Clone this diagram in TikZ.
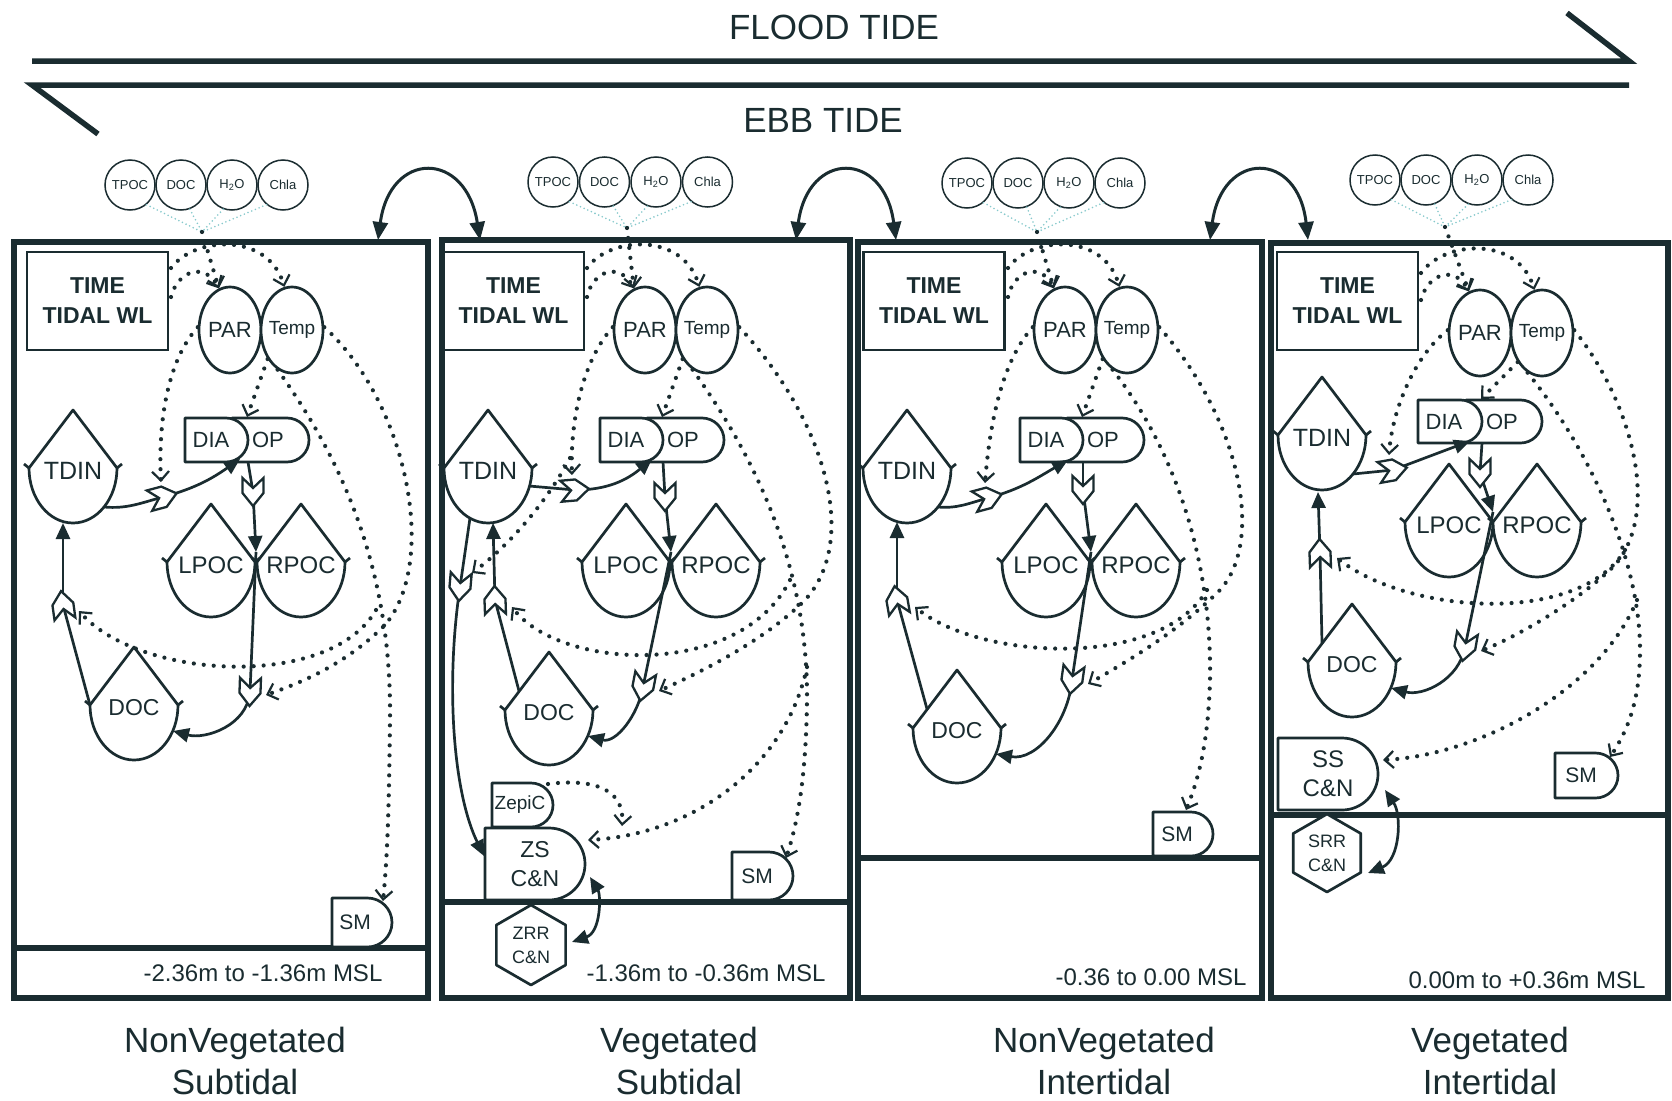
\documentclass[tikz,border=0pt]{standalone}
\usepackage{fontspec}
\setmainfont{Liberation Sans}
\usetikzlibrary{arrows.meta,calc,shapes.geometric}
\definecolor{ink}{HTML}{1A2C30}
\definecolor{cyanln}{HTML}{86C9CC}
\tikzset{
 shp/.style={draw=ink, line width=2.7pt, fill=white, line join=round},
 lbl/.style={inner sep=0pt, text=ink, align=center, font=\fontsize{24}{28}\selectfont},
 flow/.style={draw=ink, line width=2.7pt},
 tipf/.style={-{Triangle[length=16pt,width=14pt]}},
 dbl/.style={{Triangle[length=16pt,width=14pt]}-{Triangle[length=16pt,width=14pt]}},
 ctrl/.style={draw=ink, line width=4.2pt, dash pattern=on 0pt off 10pt, line cap=round},
 barb/.style={-{Straight Barb[length=9pt,width=17pt,line width=2.2pt]}},
 ell/.style={ellipse, draw=ink, line width=2.7pt, fill=white, minimum width=62pt, minimum height=86pt, inner sep=0pt},
 timebox/.style={draw=ink, line width=2.7pt, minimum width=141pt, minimum height=98pt, inner sep=0pt, align=center, text=ink, font=\bfseries\fontsize{23}{30}\selectfont},
 panel/.style={draw=ink, line width=5.5pt},
 bub/.style={circle, draw=ink, line width=1.5pt, minimum size=50pt, inner sep=0pt, text=ink, font=\fontsize{13}{14}\selectfont},
 cyanl/.style={draw=cyanln, line width=1.8pt, dash pattern=on 0pt off 4pt, line cap=round},
 gatesty/.style={draw=ink, line width=2.3pt, fill=white, line join=miter},
 tide/.style={draw=ink, line width=5.5pt, line join=miter},
 big/.style={text=ink, font=\fontsize{35}{42}\selectfont, inner sep=0pt, align=center},
 msl/.style={text=ink, font=\fontsize{24}{26}\selectfont, inner sep=0pt},
 exch/.style={draw=ink, line width=3pt, {Triangle[length=18pt,width=15pt]}-{Triangle[length=18pt,width=15pt]}},
}
\newcommand\tank[5][24]{%
 \begin{scope}[shift={(#3,#4)}]
 \draw[shp] (-44,0) -- (0,58) -- (44,0) arc[start angle=0,end angle=-180,x radius=44,y radius=55] -- cycle;
 \draw[shp,fill=none] (-44,0) -- (-49,4) (44,0) -- (49,4);
 \node[lbl,font=\fontsize{#1}{#1}\selectfont] (#2) at (0,-3) {#5};
 \coordinate (#2-w) at (-44,0);
 \coordinate (#2-e) at (44,0);
 \coordinate (#2-se) at (31,-39);
 \coordinate (#2-sw) at (-31,-39);
 \coordinate (#2-s2) at (-18,-50);
 \coordinate (#2-rw) at (-30,19);
 \coordinate (#2-e2) at (39,-26);
 \coordinate (#2-e3) at (41,-18);
 \end{scope}}
\newcommand\prodbox[8][22]{%
 \pgfmathsetmacro\pbr{#6/2}\pgfmathsetmacro\pbs{#5-#6/2}%
 \draw[shp] (#3,#4) -- ++(\pbs,0) arc[start angle=90,end angle=-90,radius=\pbr] -- ++(-\pbs,0) -- cycle;
 \node[lbl,font=\fontsize{#1}{29}\selectfont] (#2) at (#7,{#4-#6/2}) {#8};}
\newcommand\hexa[5]{%
 \begin{scope}[shift={(#2,#3)}]
 \draw[shp] (90:#4pt) -- (30:#4pt) -- (-30:#4pt) -- (-90:#4pt) -- (-150:#4pt) -- (150:#4pt) -- cycle;
 \node[lbl,font=\fontsize{18}{24}\selectfont] (#1) at (0,0) {#5};
 \end{scope}}
\newcommand\gate[2]{%
 \begin{scope}[shift={(#1)},rotate=#2]
 \draw[gatesty] (-14,10.5) -- (1,10.5) -- (14,0) -- (1,-10.5) -- (-14,-10.5) -- (-4,0) -- cycle;
 \end{scope}}
\newcommand\cluster[6]{%
 \node[bub] (#1tpoc) at (#2,#4) {TPOC};
 \node[bub] (#1docw) at ({#2+#3},#4) {DOC};
 \node[bub] (#1htwo) at ({#2+2*#3},#4) {H\textsubscript{2}O};
 \node[bub] (#1chla) at ({#2+3*#3},#4) {Chla};
 \coordinate (#1conv) at (#5,#6);
 \draw[cyanl] (#1tpoc.-50) -- (#1conv) (#1docw.-70) -- (#1conv) (#1htwo.-110) -- (#1conv) (#1chla.-130) -- (#1conv);}
\newcommand\partemp[3]{%
 \node[ell] (#1par) at (#2,#3) {};
 \node[ell] (#1temp) at ({#2+62},#3) {};
 \node[lbl,font=\fontsize{22}{22}\selectfont] (#1part) at (#1par) {PAR};
 \node[lbl,font=\fontsize{19}{19}\selectfont] (#1tempt) at (#1temp) {Temp};}

\begin{document}
\begin{tikzpicture}[x=1pt,y=1pt]
\fill[white] (0,0) rectangle (1672,-1100);
\useasboundingbox (0,0) rectangle (1672,-1100);

% ---------- tides ----------
\coordinate (fla) at (32,-61); \coordinate (flb) at (1629,-61); \coordinate (flc) at (1567,-13);
\draw[tide] (fla) -- (flb) -- (flc);
\coordinate (eba) at (1629,-85); \coordinate (ebb) at (32,-85); \coordinate (ebc) at (98,-134);
\draw[tide] (eba) -- (ebb) -- (ebc);
\node[big] (flood) at (834,-27) {FLOOD TIDE};
\node[big] (ebbt) at (823,-120) {EBB TIDE};

% ---------- bottom labels ----------
\node[big] (lab1) at (235,-1061) {NonVegetated\\Subtidal};
\node[big] (lab2) at (679,-1061) {Vegetated\\Subtidal};
\node[big] (lab3) at (1104,-1061) {NonVegetated\\Intertidal};
\node[big] (lab4) at (1490,-1061) {Vegetated\\Intertidal};

% ---------- frames ----------
\draw[panel] (14,-242) rectangle (428,-998);
\draw[panel] (14,-948) -- (428,-948);
\node[msl] (amsl) at (263,-973) {-2.36m to -1.36m MSL};
\draw[panel] (442,-240) rectangle (850,-998);
\draw[panel] (442,-902) -- (850,-902);
\node[msl] (bmsl) at (706,-973) {-1.36m to -0.36m MSL};
\draw[panel] (858,-242) rectangle (1262,-998);
\draw[panel] (858,-858) -- (1262,-858);
\node[msl] (cmsl) at (1151,-977) {-0.36 to 0.00 MSL};
\draw[panel] (1271,-243) rectangle (1668,-998);
\draw[panel] (1271,-815) -- (1668,-815);
\node[msl] (dmsl) at (1527,-980) {0.00m to +0.36m MSL};

% ---------- exchange arrows ----------
\coordinate (ex1a) at (378,-240); \coordinate (ex1b) at (480,-240);
\draw[exch] (ex1a) .. controls (390,-150) and (466,-150) .. (ex1b);
\coordinate (ex2a) at (796,-240); \coordinate (ex2b) at (896,-240);
\draw[exch] (ex2a) .. controls (808,-150) and (884,-150) .. (ex2b);
\coordinate (ex3a) at (1210,-240); \coordinate (ex3b) at (1308,-240);
\draw[exch] (ex3a) .. controls (1222,-150) and (1298,-150) .. (ex3b);

% ---------- clusters ----------
\cluster{a}{130}{51}{-185}{202}{-232}
\cluster{b}{553}{51.5}{-182}{627}{-228}
\cluster{c}{967}{51}{-183}{1037}{-232}
\cluster{d}{1375}{51}{-180}{1445}{-227}

% ================= PANEL 1 =================
\node[timebox] (atime) at (97.5,-301) {TIME\\TIDAL WL};
\partemp{a}{230}{-330}
\prodbox{aop}{232}{-418}{77}{44}{268}{OP}
\prodbox{adia}{185}{-418}{63}{44}{211}{DIA}
\tank[25]{atdin}{73}{-468}{TDIN}
\tank{alpoc}{211}{-562}{LPOC}
\tank{arpoc}{301}{-562}{RPOC}
\tank[23]{adoc}{134}{-705}{DOC}
\prodbox[21]{asm}{332}{-898}{60}{49}{355}{SM}
\coordinate (atime-e1) at (171,-268); \coordinate (atime-e2) at (171,-297);
\coordinate (adia-in) at (240,-459); \coordinate (adoj) at (248,-462);
\coordinate (adoj-t) at (247,-417); \coordinate (apocj) at (256,-552);
\coordinate (atdin-in) at (63,-523); \coordinate (asm-in) at (383,-901);
\coordinate (ax1) at (376,-610);
\coordinate (ag1) at (163,-497); \coordinate (ag2) at (253,-492);
\coordinate (ag3) at (250,-692); \coordinate (ag4) at (63,-605);
\draw[flow] (atdin-se) to[out=-5,in=195] (ag1);
\draw[flow,tipf] (ag1) to[out=15,in=-145] (adia-in);
\draw[flow] (adoj) -- (ag2);
\draw[flow,tipf] (ag2) -- (apocj);
\draw[flow] (apocj) -- (ag3);
\draw[flow,tipf] (ag3) to[out=-95,in=-15] (adoc-e2);
\draw[flow] (adoc-w) -- (ag4);
\draw[flow,tipf] (ag4) -- (atdin-in);
\draw[ctrl,barb] (aconv) -- (apar.105);
\draw[ctrl,barb] (atime-e1) .. controls (195,-236) and (268,-232) .. (atemp.100);
\draw[ctrl,barb] (atime-e2) .. controls (178,-270) and (205,-262) .. (apar.105);
\draw[ctrl,barb] (apar.175) .. controls (168,-360) and (158,-420) .. ($(ag1)+(-2,15)$);
\draw[ctrl,barb] (atemp.230) -- (adoj-t);
\draw[ctrl,barb] (atemp.250) .. controls (335,-450) and (392,-560) .. (390,-720) .. controls (389,-800) and (388,-850) .. (asm-in);
\draw[ctrl,barb] (atemp.5) .. controls (405,-400) and (440,-560) .. (385,-625) .. controls (345,-665) and (300,-683) .. ($(ag3)+(16,-3)$);
\draw[ctrl,barb] (ax1) .. controls (330,-690) and (140,-680) .. ($(ag4)+(16,-6)$);
\gate{ag1}{15} \gate{ag2}{-90} \gate{ag3}{-92} \gate{ag4}{98}

% ================= PANEL 2 =================
\node[timebox] (btime) at (513.5,-301) {TIME\\TIDAL WL};
\partemp{b}{645}{-330}
\prodbox{bop}{647}{-418}{77}{44}{683}{OP}
\prodbox{bdia}{600}{-418}{63}{44}{626}{DIA}
\tank[25]{btdin}{488}{-468}{TDIN}
\tank{blpoc}{626}{-562}{LPOC}
\tank{brpoc}{716}{-562}{RPOC}
\tank[23]{bdoc}{549}{-710}{DOC}
\prodbox[19]{bzepic}{492}{-783}{61}{44}{520}{ZepiC}
\prodbox[23]{bzs}{485}{-828}{100}{72}{535}{ZS\\C\&N}
\hexa{bzrr}{531}{-945}{40}{ZRR\\C\&N}
\prodbox[21]{bsm}{732}{-852}{61}{48}{757}{SM}
\coordinate (btime-e1) at (587,-268); \coordinate (btime-e2) at (587,-297);
\coordinate (bdia-in) at (652,-459); \coordinate (bdoj) at (663,-462);
\coordinate (bdoj-t) at (662,-417); \coordinate (bpocj) at (671,-552);
\coordinate (btdin-in) at (493,-523);
\coordinate (bzs-l) at (484,-856); \coordinate (bzs-in) at (588,-840);
\coordinate (bzs-r) at (590,-877); \coordinate (bzrr-r) at (572,-942);
\coordinate (bsm-in) at (786,-858); \coordinate (bzep-ne) at (548,-784);
\coordinate (bzep-end) at (622,-826);
\coordinate (bx1) at (790,-580); \coordinate (bx2) at (807,-667); \coordinate (bx3) at (570,-458);
\coordinate (bg1) at (575,-490); \coordinate (bg2) at (665,-497);
\coordinate (bg3) at (643,-687); \coordinate (bg4) at (495,-600);
\coordinate (bg5) at (460,-587);
\draw[flow] (btdin-e3) -- (bg1);
\draw[flow,tipf] (bg1) to[out=0,in=-140] (bdia-in);
\draw[flow] (bdoj) -- (bg2);
\draw[flow,tipf] (bg2) -- (bpocj);
\draw[flow] (bpocj) -- (bg3);
\draw[flow,tipf] (bg3) to[out=-100,in=-15] (bdoc-e2);
\draw[flow] (bdoc-rw) -- (bg4);
\draw[flow,tipf] (bg4) -- (btdin-in);
\draw[flow] (btdin-s2) -- (bg5);
\draw[flow,tipf] (bg5) .. controls (446,-680) and (452,-790) .. (bzs-l);
\draw[flow,dbl] (bzs-r) .. controls (601,-895) and (601,-932) .. (bzrr-r);
\draw[ctrl,barb] (bconv) -- (bpar.105);
\draw[ctrl,barb] (btime-e1) .. controls (610,-236) and (683,-232) .. (btemp.100);
\draw[ctrl,barb] (btime-e2) .. controls (593,-270) and (620,-262) .. (bpar.105);
\draw[ctrl,barb] (bpar.175) .. controls (583,-360) and (570,-420) .. ($(bg1)+(-3,15)$);
\draw[ctrl,barb] (bx3) .. controls (548,-500) and (510,-545) .. ($(bg5)+(12,14)$);
\draw[ctrl,barb] (btemp.230) -- (bdoj-t);
\draw[ctrl,barb] (btemp.250) .. controls (750,-450) and (808,-560) .. (807,-700) .. controls (806,-780) and (797,-825) .. (bsm-in);
\draw[ctrl,barb] (btemp.5) .. controls (825,-420) and (860,-540) .. (805,-600) .. controls (765,-640) and (705,-670) .. ($(bg3)+(16,-4)$);
\draw[ctrl,barb] (bx1) .. controls (740,-680) and (560,-670) .. ($(bg4)+(17,-7)$);
\draw[ctrl,barb] (bx2) .. controls (785,-770) and (690,-835) .. (bzs-in);
\draw[ctrl,barb] (bzep-ne) .. controls (595,-778) and (625,-790) .. (bzep-end);
\gate{bg1}{5} \gate{bg2}{-90} \gate{bg3}{-101} \gate{bg4}{92} \gate{bg5}{-95}

% ================= PANEL 3 =================
\node[timebox] (ctime) at (934,-301) {TIME\\TIDAL WL};
\partemp{c}{1065}{-330}
\prodbox{cop}{1067}{-418}{77}{44}{1103}{OP}
\prodbox{cdia}{1020}{-418}{63}{44}{1046}{DIA}
\tank[25]{ctdin}{907}{-468}{TDIN}
\tank{clpoc}{1046}{-562}{LPOC}
\tank{crpoc}{1136}{-562}{RPOC}
\tank[23]{cdoc}{957}{-728}{DOC}
\prodbox[21]{csm}{1153}{-812}{60}{44}{1177}{SM}
\coordinate (ctime-e1) at (1008,-268); \coordinate (ctime-e2) at (1008,-297);
\coordinate (cdia-in) at (1068,-460); \coordinate (cdoj) at (1083,-462);
\coordinate (cdoj-t) at (1082,-417); \coordinate (cpocj) at (1091,-552);
\coordinate (ctdin-in) at (897,-522); \coordinate (csm-in) at (1186,-810);
\coordinate (cx1) at (1207,-590);
\coordinate (cg1) at (988,-498); \coordinate (cg2) at (1083,-490);
\coordinate (cg3) at (1072,-680); \coordinate (cg4) at (897,-600);
\draw[flow] (ctdin-se) to[out=-5,in=195] (cg1);
\draw[flow,tipf] (cg1) to[out=15,in=-150] (cdia-in);
\draw[flow] (cdoj) -- (cg2);
\draw[flow,tipf] (cg2) -- (cpocj);
\draw[flow] (cpocj) -- (cg3);
\draw[flow,tipf] (cg3) to[out=-95,in=-10] (cdoc-e2);
\draw[flow] (cdoc-rw) -- (cg4);
\draw[flow,tipf] (cg4) -- (ctdin-in);
\draw[ctrl,barb] (cconv) -- (cpar.105);
\draw[ctrl,barb] (ctime-e1) .. controls (1031,-236) and (1104,-232) .. (ctemp.100);
\draw[ctrl,barb] (ctime-e2) .. controls (1014,-270) and (1041,-262) .. (cpar.105);
\draw[ctrl,barb] (cpar.175) .. controls (1003,-360) and (990,-420) .. ($(cg1)+(-3,15)$);
\draw[ctrl,barb] (ctemp.230) -- (cdoj-t);
\draw[ctrl,barb] (ctemp.250) .. controls (1175,-450) and (1212,-560) .. (1210,-680) .. controls (1208,-750) and (1196,-785) .. (csm-in);
\draw[ctrl,barb] (ctemp.5) .. controls (1240,-420) and (1265,-540) .. (1220,-590) .. controls (1180,-630) and (1130,-660) .. ($(cg3)+(16,-4)$);
\draw[ctrl,barb] (cx1) .. controls (1160,-670) and (980,-660) .. ($(cg4)+(18,-7)$);
\gate{cg1}{15} \gate{cg2}{-90} \gate{cg3}{-98} \gate{cg4}{100}

% ================= PANEL 4 =================
\node[timebox] (dtime) at (1347.5,-301) {TIME\\TIDAL WL};
\partemp{d}{1480}{-333}
\prodbox{dop}{1466}{-400}{76}{43}{1502}{OP}
\prodbox{ddia}{1418}{-400}{64}{43}{1444}{DIA}
\tank[25]{dtdin}{1322}{-435}{TDIN}
\tank{dlpoc}{1449}{-522}{LPOC}
\tank{drpoc}{1537}{-522}{RPOC}
\tank[23]{ddoc}{1352}{-662}{DOC}
\prodbox[24]{dss}{1278}{-738}{100}{72}{1328}{SS\\C\&N}
\hexa{dsrr}{1327}{-853}{39}{SRR\\C\&N}
\prodbox[21]{dsm}{1555}{-753}{63}{45}{1581}{SM}
\coordinate (dtime-e1) at (1421,-273); \coordinate (dtime-e2) at (1421,-300);
\coordinate (ddia-in) at (1470,-441); \coordinate (ddoj) at (1482,-443);
\coordinate (ddoj-t) at (1481,-399); \coordinate (dpocj) at (1493,-512);
\coordinate (dtdin-in) at (1318,-492);
\coordinate (dss-r) at (1385,-790); \coordinate (dsrr-r) at (1368,-873);
\coordinate (dss-in) at (1383,-760); \coordinate (dsm-in) at (1610,-757);
\coordinate (dx1) at (1625,-550); \coordinate (dx2) at (1637,-600);
\coordinate (dg1) at (1393,-470); \coordinate (dg2) at (1480,-473);
\coordinate (dg3) at (1465,-647); \coordinate (dg4) at (1320,-553);
\draw[flow] (dtdin-se) -- (dg1);
\draw[flow,tipf] (dg1) -- (ddia-in);
\draw[flow] (ddoj) -- (dg2);
\draw[flow,tipf] (dg2) -- (dpocj);
\draw[flow] (dpocj) -- (dg3);
\draw[flow,tipf] (dg3) to[out=-100,in=-15] (ddoc-e2);
\draw[flow] (ddoc-rw) -- (dg4);
\draw[flow,tipf] (dg4) -- (dtdin-in);
\draw[flow,dbl] (dss-r) .. controls (1402,-815) and (1400,-860) .. (dsrr-r);
\draw[ctrl,barb] (dconv) -- (dpar.105);
\draw[ctrl,barb] (dtime-e1) .. controls (1445,-240) and (1518,-236) .. (dtemp.100);
\draw[ctrl,barb] (dtime-e2) .. controls (1428,-273) and (1455,-265) .. (dpar.105);
\draw[ctrl,barb] (dpar.175) .. controls (1415,-355) and (1392,-410) .. ($(dg1)+(-4,15)$);
\draw[ctrl,barb] (dtemp.230) -- (ddoj-t);
\draw[ctrl,barb] (dtemp.250) .. controls (1590,-450) and (1640,-560) .. (1640,-650) .. controls (1640,-700) and (1628,-730) .. (dsm-in);
\draw[ctrl,barb] (dtemp.5) .. controls (1630,-400) and (1662,-510) .. (1615,-565) .. controls (1580,-600) and (1520,-635) .. ($(dg3)+(16,-4)$);
\draw[ctrl,barb] (dx1) .. controls (1580,-625) and (1410,-615) .. ($(dg4)+(17,-5)$);
\draw[ctrl,barb] (dx2) .. controls (1600,-690) and (1480,-755) .. (dss-in);
\gate{dg1}{10} \gate{dg2}{-90} \gate{dg3}{-100} \gate{dg4}{92}
\end{tikzpicture}
\end{document}
